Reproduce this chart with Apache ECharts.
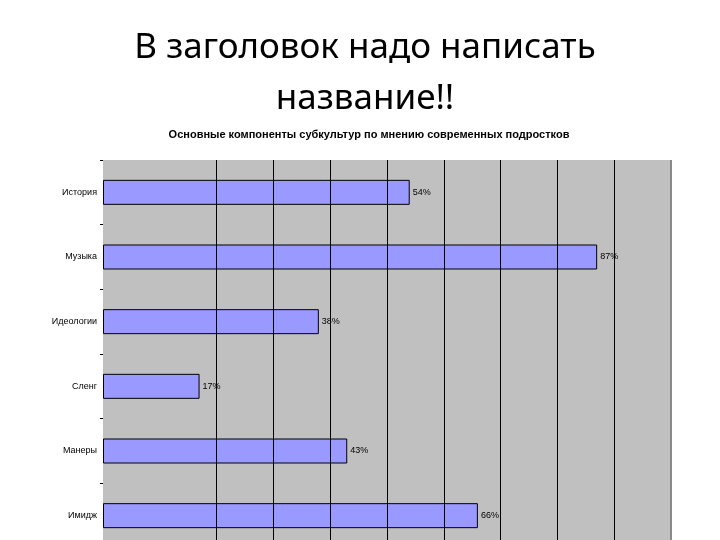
<!DOCTYPE html>
<html>
<head>
<meta charset="utf-8">
<script src="https://cdn.jsdelivr.net/npm/echarts@6/dist/echarts.min.js"></script>
<style>
html,body{margin:0;padding:0;background:#fff;overflow:hidden;}
#chart{width:720px;height:560px;}
</style>
</head>
<body>
<div id="chart"></div>
<script>
var slideTitle = 'В заголовок надо написать\nназвание!!';
var chartTitle = 'Основные компоненты субкультур по мнению современных подростков';
var categories = ['История', 'Музыка', 'Идеологии', 'Сленг', 'Манеры', 'Имидж'];
var values = [54, 87, 38, 17, 43, 66];
var gridValues = [20, 30, 40, 50, 60, 70, 80, 90];

var chart = echarts.init(document.getElementById('chart'));
chart.setOption({
  animation: false,
  backgroundColor: '#ffffff',
  title: [
    {
      text: slideTitle,
      left: 360,
      top: 18,
      textAlign: 'center',
      textStyle: {
        fontFamily: 'Noto Sans',
        fontWeight: 'normal',
        fontSize: 35,
        lineHeight: 51,
        color: '#000'
      }
    },
    {
      text: chartTitle,
      left: 364,
      top: 124,
      textAlign: 'center',
      textStyle: {
        fontFamily: 'Liberation Sans',
        fontWeight: 'bold',
        fontSize: 11,
        color: '#000'
      }
    }
  ],
  grid: {
    left: 103,
    top: 160,
    width: 568,
    height: 388,
    show: true,
    backgroundColor: '#c0c0c0',
    borderWidth: 0
  },
  xAxis: {
    type: 'value',
    min: 0,
    max: 100,
    interval: 10,
    axisLabel: { show: false },
    axisTick: { show: false },
    axisLine: { show: false },
    splitLine: { show: false }
  },
  yAxis: {
    type: 'category',
    inverse: true,
    data: categories,
    axisLine: { show: false },
    axisTick: { show: true, length: 3, lineStyle: { color: '#000', width: 1 } },
    axisLabel: {
      fontFamily: 'Liberation Sans',
      fontSize: 9,
      color: '#000',
      margin: 6
    }
  },
  series: [
    {
      type: 'line',
      data: [],
      z: 1,
      silent: true,
      markLine: {
        silent: true,
        symbol: 'none',
        label: { show: false },
        lineStyle: { color: '#000', width: 1, type: 'solid' },
        data: gridValues.map(function (v) { return { xAxis: v }; })
      }
    },
    {
      type: 'line',
      data: [],
      z: 1,
      silent: true,
      markLine: {
        silent: true,
        symbol: 'none',
        label: { show: false },
        lineStyle: { color: '#8a8a8a', width: 2, type: 'solid' },
        data: [{ xAxis: 100 }]
      }
    },
    {
      type: 'bar',
      z: 3,
      data: values,
      barWidth: 25,
      itemStyle: {
        color: '#9999ff',
        borderColor: '#000',
        borderWidth: 1
      },
      label: {
        show: true,
        position: 'right',
        distance: 3,
        formatter: '{c}%',
        fontFamily: 'Liberation Sans',
        fontSize: 9,
        color: '#000'
      }
    }
  ]
});
</script>
</body>
</html>
